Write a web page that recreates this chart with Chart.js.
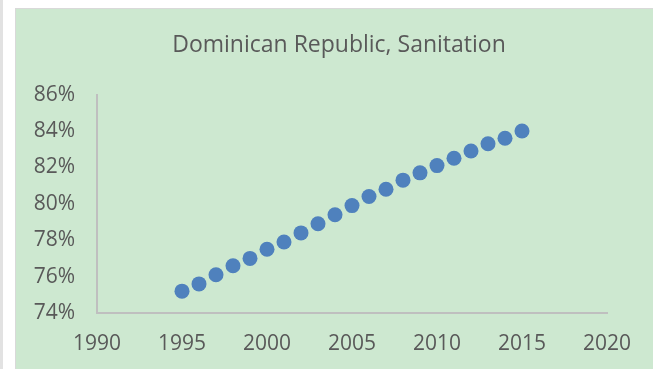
<!DOCTYPE html>
<html>
<head>
<meta charset="utf-8">
<script src="https://cdn.jsdelivr.net/npm/chart.js@4/dist/chart.umd.min.js"></script>
<style>
  html, body { margin: 0; padding: 0; background: #ffffff; width: 653px; height: 369px; overflow: hidden; }
  #strip { position: absolute; left: 0; top: 0; width: 3px; height: 369px; background: #e2e2e2; }
  #frame { position: absolute; left: 15px; top: 8px; width: 638px; height: 361px;
           border-left: 1px solid #d9d9d9; border-top: 1px solid #d9d9d9; box-sizing: border-box; }
  #chart { position: absolute; left: 16px; top: 9px; background: #cde8d0; }
</style>
</head>
<body>
<div id="strip"></div>
<div id="frame"></div>
<canvas id="chart" width="637" height="360"></canvas>
<script>
// Share of population using improved sanitation, Dominican Republic
const years = [1995, 1996, 1997, 1998, 1999, 2000, 2001, 2002, 2003, 2004, 2005,
               2006, 2007, 2008, 2009, 2010, 2011, 2012, 2013, 2014, 2015];
const sanitation = [75.2, 75.6, 76.1, 76.6, 77.0, 77.5, 77.9, 78.4, 78.9, 79.4, 79.9,
                    80.4, 80.8, 81.3, 81.7, 82.1, 82.5, 82.9, 83.3, 83.6, 84.0];
const xTicks = [1990, 1995, 2000, 2005, 2010, 2015, 2020];
const yTicks = [74, 76, 78, 80, 82, 84, 86];

const points = years.map((y, i) => ({ x: y, y: sanitation[i] }));
const textColor = '#595959';
const axisColor = '#bfbfbf';

new Chart(document.getElementById('chart'), {
  type: 'scatter',
  data: {
    datasets: [{
      label: 'Sanitation',
      data: points,
      backgroundColor: '#4f81bd',
      borderColor: '#4f81bd',
      borderWidth: 0,
      pointRadius: 7.5,
      pointHoverRadius: 7.5
    }]
  },
  options: {
    responsive: false,
    animation: false,
    layout: { padding: { left: 17, right: 8, top: 0, bottom: 8 } },
    plugins: {
      legend: { display: false },
      tooltip: { enabled: false },
      title: {
        display: true,
        text: 'Dominican Republic, Sanitation',
        color: textColor,
        font: { family: 'Open Sans', size: 23, weight: 'normal' },
        padding: { top: 23, bottom: 35 }
      }
    },
    scales: {
      x: {
        type: 'linear',
        min: xTicks[0],
        max: xTicks[xTicks.length - 1],
        afterBuildTicks: (axis) => { axis.ticks = xTicks.map(v => ({ value: v })); },
        afterFit: (axis) => { axis.height = 48; },
        ticks: {
          color: textColor,
          font: { family: 'Open Sans', size: 21 },
          padding: 18,
          maxRotation: 0,
          callback: (v) => String(v)
        },
        grid: { display: false, drawTicks: false },
        border: { display: true, color: axisColor, width: 2 }
      },
      y: {
        type: 'linear',
        min: yTicks[0],
        max: yTicks[yTicks.length - 1],
        afterBuildTicks: (axis) => { axis.ticks = yTicks.map(v => ({ value: v })); },
        afterFit: (axis) => { axis.width = 64; },
        ticks: {
          color: textColor,
          font: { family: 'Open Sans', size: 21 },
          padding: 22,
          callback: (v) => v + '%'
        },
        grid: { display: false, drawTicks: false },
        border: { display: true, color: axisColor, width: 2 }
      },
      // empty right-hand margin so the plot ends before the chart edge
      yRight: {
        type: 'linear',
        position: 'right',
        display: true,
        ticks: { display: false },
        grid: { display: false, drawTicks: false },
        border: { display: false },
        afterFit: (axis) => { axis.width = 38; }
      }
    }
  }
});
</script>
</body>
</html>
